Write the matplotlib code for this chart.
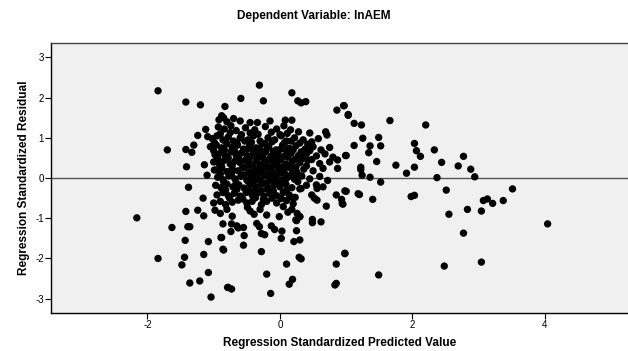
"""
Residual scatter: standardized predicted value vs standardized residual.
"""

import matplotlib.pyplot as plt
import numpy as np

plt.rcParams['font.family'] = ['Liberation Sans', 'DejaVu Sans']

# --- outlying points (read individually) ---
outer_x = [-1.84, -1.42, -1.20, -0.83, -1.70, -1.42, -1.41, -1.38, -2.16, -1.63,
           -1.42, -1.39, -1.36, -1.43, -1.84, -1.44, -1.48, -1.36, -1.21, -1.08,
           -1.04, -0.79, -1.15, -1.08, -0.86, -0.89, -1.24, -1.15, -1.16, -1.10,
           -1.24, -1.30, -1.33, -1.14, -0.99, -1.12, -1.09,
           -0.31, -0.59, -0.25, 0.18, 0.27, 0.32, 0.39, 0.86, 0.96, 1.03,
           -0.45, -0.34, -0.15, 0.08, 0.18, 0.69, 0.71, 0.99, 0.87, 0.87,
           0.55, 0.56, 0.30, 0.85, 0.94, 0.98, 0.70, 0.48, 0.52, 0.56,
           0.49, 0.49, 0.62, 0.30, 0.25, 0.25, 0.21, 0.30, 0.03, 0.02,
           -0.13, -0.08, -0.28, -0.23, -0.35, -0.31, -0.55, -0.54, -0.55, -0.65,
           -0.63, -0.73, -0.74, -0.86, -0.88, -0.85, -0.28, 0.29, 0.32, 0.10,
           -0.20, 0.19, 0.14, -0.14, -0.78, -0.73, 0.85, 0.98, 0.83, 0.85,
           -0.39, -0.49, -0.01, 0.05, 0.26, 0.30, 0.24, 0.32,
           0.97, 1.03, 1.12, 1.23, 1.66, 2.20, 1.25, 1.12, 1.49, 1.52,
           1.36, 1.34, 1.00, 1.46, 1.22, 1.22, 1.24, 1.36, 1.75, 2.03,
           2.06, 2.12, 2.03, 1.91, 2.33, 2.44, 2.37, 2.77, 2.69, 2.88,
           2.94, 1.52, 1.00, 1.18, 1.20, 0.93, 0.95, 1.40, 1.98, 2.03,
           2.51, 3.51, 3.07, 3.13, 3.21, 3.37, 2.55, 2.83, 3.04, 2.77,
           4.04, 0.98, 1.49, 2.48, 3.04]
outer_y = [2.17, 1.89, 1.82, 1.78, 0.70, 0.71, 0.28, -0.23, -0.99, -1.23,
           -0.83, -1.21, -1.21, -1.55, -2.00, -1.97, -2.16, -2.61, -2.56, -2.35,
           -2.96, -2.72, -1.90, -1.58, -1.77, -1.48, -0.80, -0.94, -0.50, 0.07,
           1.06, 0.82, 0.64, 0.33, 0.20, 1.21, 1.03,
           2.31, 1.98, 1.92, 2.12, 1.92, 1.87, 1.90, 1.69, 1.80, 1.58,
           1.38, 1.38, 1.42, 1.44, 1.44, 1.15, 1.07, 0.56, 0.45, 0.24,
           -0.17, -0.26, -0.27, -0.42, -0.63, -0.32, -0.70, -0.42, -0.50, -0.55,
           -1.03, -1.11, -1.09, -0.96, -1.06, -1.31, -1.58, -1.54, -1.32, -1.50,
           -1.19, -1.28, -1.38, -1.41, -1.13, -1.21, -1.23, -1.43, -1.67, -1.19,
           -1.24, -1.14, -1.33, -1.14, -1.48, -1.79, -1.83, -1.97, -2.01, -2.14,
           -2.39, -2.52, -2.64, -2.87, -2.72, -2.76, -2.14, -1.87, -2.66, -2.62,
           -0.90, -0.73, -0.96, -0.71, -0.88, -0.96, -1.04, -0.26,
           1.80, 1.56, 1.36, 1.32, 1.43, 1.32, 0.99, 0.81, 1.01, 0.80,
           0.80, 0.63, 0.56, 0.41, 0.27, 0.21, 0.07, 0.02, 0.32, 0.86,
           0.68, 0.54, 0.27, 0.12, 0.70, 0.39, 0.01, 0.54, 0.30, 0.22,
           0.03, -0.10, -0.33, -0.39, -0.41, -0.53, -0.65, -0.53, -0.46, -0.43,
           -0.30, -0.27, -0.56, -0.52, -0.63, -0.56, -0.90, -0.78, -0.82, -1.37,
           -1.14, -1.88, -2.41, -2.19, -2.09]

# --- dense central cluster (estimated row by row) ---
cluster_x = [-0.92, -0.88, -0.85, -0.80, -0.70, -0.60,
             -0.93, -0.84, -0.74, -0.66, -0.52, -0.38, -0.22, -0.05, 0.06, 0.16, 0.28, 0.45,
             -1.02, -0.95, -0.86, -0.78, -0.70, -0.60, -0.48, -0.40, -0.30, -0.18, -0.08,
             0.02, 0.10, 0.22, 0.35, 0.48, 0.58,
             -1.05, -0.96, -0.88, -0.80, -0.72, -0.64, -0.55, -0.46, -0.36, -0.27, -0.17,
             -0.06, 0.04, 0.14, 0.24, 0.38, 0.50, 0.62, 0.75,
             -0.98, -0.90, -0.82, -0.74, -0.66, -0.58, -0.49, -0.40, -0.31, -0.22, -0.13,
             -0.03, 0.07, 0.17, 0.28, 0.40, 0.55, 0.68, 0.80,
             -1.00, -0.92, -0.84, -0.75, -0.68, -0.60, -0.52, -0.44, -0.35, -0.26, -0.18,
             -0.09, 0.00, 0.09, 0.19, 0.30, 0.42, 0.60, 0.75,
             -0.96, -0.88, -0.80, -0.72, -0.63, -0.55, -0.47, -0.38, -0.30, -0.21, -0.12,
             -0.03, 0.06, 0.15, 0.25, 0.36, 0.50, 0.65,
             -0.94, -0.86, -0.77, -0.68, -0.59, -0.50, -0.42, -0.33, -0.24, -0.15, -0.06,
             0.03, 0.12, 0.22, 0.33, 0.45, 0.60, 0.72,
             -0.97, -0.89, -0.80, -0.71, -0.62, -0.54, -0.45, -0.36, -0.27, -0.18, -0.09,
             0.00, 0.09, 0.18, 0.40, 0.65,
             -0.95, -0.86, -0.78, -0.69, -0.60, -0.51, -0.42, -0.33, -0.24, -0.15, -0.05,
             0.05, 0.14, 0.23,
             -1.00, -0.90, -0.82, -0.72, -0.63, -0.50, -0.42, -0.28, -0.20, -0.05, 0.10, 0.20,
             -0.98, -0.90, -0.80, -0.72, -0.45, -0.30, -0.20, 0.12, 0.18]
cluster_y = [1.45, 1.55, 1.50, 1.40, 1.48, 1.42,
             1.27, 1.22, 1.30, 1.18, 1.25, 1.20, 1.28, 1.22, 1.30, 1.20, 1.15, 1.12,
             0.98, 1.05, 0.95, 1.02, 0.92, 1.00, 0.95, 1.05, 0.92, 1.00, 0.95,
             1.05, 0.92, 1.00, 0.95, 0.90, 0.98,
             0.78, 0.82, 0.75, 0.85, 0.76, 0.82, 0.72, 0.80, 0.75, 0.85, 0.78,
             0.70, 0.82, 0.74, 0.80, 0.72, 0.78, 0.70, 0.76,
             0.58, 0.62, 0.55, 0.65, 0.56, 0.62, 0.55, 0.63, 0.57, 0.64, 0.55,
             0.60, 0.55, 0.62, 0.56, 0.60, 0.55, 0.60, 0.52,
             0.40, 0.36, 0.44, 0.35, 0.42, 0.38, 0.45, 0.36, 0.42, 0.35, 0.44,
             0.38, 0.45, 0.35, 0.42, 0.38, 0.44, 0.36, 0.40,
             0.20, 0.25, 0.16, 0.22, 0.18, 0.26, 0.15, 0.22, 0.18, 0.25, 0.15,
             0.22, 0.18, 0.26, 0.16, 0.22, 0.18, 0.24,
             0.02, -0.04, 0.05, -0.02, 0.04, -0.05, 0.03, -0.03, 0.05, -0.02, 0.04,
             -0.05, 0.02, -0.03, 0.05, -0.02, 0.04, -0.06,
             -0.18, -0.24, -0.15, -0.22, -0.17, -0.25, -0.16, -0.22, -0.15, -0.24, -0.17,
             -0.22, -0.15, -0.24, -0.18, -0.22,
             -0.42, -0.36, -0.44, -0.38, -0.45, -0.36, -0.42, -0.37, -0.45, -0.38, -0.44,
             -0.36, -0.42, -0.48,
             -0.62, -0.58, -0.66, -0.60, -0.55, -0.62, -0.58, -0.66, -0.58, -0.62, -0.56, -0.64,
             -0.80, -0.88, -0.78, -0.95, -0.82, -0.78, -0.92, -0.85, -0.78]

# --- extra overlapping points in the core of the cluster ---
core_x = [-0.90, -0.75, -0.58, -0.45, -0.33, -0.13, 0.00, 0.11,
          -0.99, -0.82, -0.65, -0.53, -0.43, -0.23, -0.12, 0.07, 0.17, 0.30, 0.42,
          -1.00, -0.84, -0.68, -0.50, -0.40, -0.31, -0.21, -0.10, 0.00, 0.10, 0.20, 0.32, 0.45,
          -0.94, -0.78, -0.62, -0.45, -0.35, -0.26, -0.17, -0.08, 0.02, 0.12, 0.23, 0.35, 0.48,
          -0.88, -0.72, -0.56, -0.48, -0.40, -0.30, -0.22, -0.13, -0.04, 0.05, 0.14, 0.24, 0.40,
          -0.90, -0.73, -0.55, -0.46, -0.37, -0.28, -0.19, -0.10, 0.00, 0.08, 0.18, 0.28,
          -0.85, -0.66, -0.48, -0.40, -0.29, -0.20, -0.11, -0.02, 0.08, 0.27,
          -0.82, -0.65, -0.47, -0.38, -0.28, -0.19, -0.10, 0.10,
          -0.76, -0.56, -0.37, -0.25, -0.12, 0.02, 0.18]
core_y = [1.10, 1.13, 1.08, 1.12, 1.09, 1.14, 1.08, 1.11,
          0.88, 0.91, 0.87, 0.92, 0.89, 0.86, 0.90, 0.88, 0.92, 0.87, 0.84,
          0.68, 0.70, 0.66, 0.71, 0.67, 0.72, 0.69, 0.66, 0.71, 0.68, 0.70, 0.65, 0.68,
          0.49, 0.50, 0.47, 0.52, 0.48, 0.51, 0.46, 0.50, 0.48, 0.52, 0.47, 0.49, 0.46,
          0.29, 0.31, 0.28, 0.32, 0.27, 0.30, 0.33, 0.28, 0.31, 0.29, 0.32, 0.27, 0.30,
          0.10, 0.12, 0.08, 0.11, 0.09, 0.13, 0.10, 0.08, 0.12, 0.09, 0.11, 0.08,
          -0.10, -0.12, -0.08, -0.11, -0.09, -0.12, -0.07, -0.10, -0.12, -0.09,
          -0.30, -0.28, -0.32, -0.29, -0.31, -0.28, -0.32, -0.30,
          -0.50, -0.52, -0.49, -0.53, -0.50, -0.51, -0.48]

x_ticks = [-2, 0, 2, 4]
y_ticks = [-3, -2, -1, 0, 1, 2, 3]

fig = plt.figure(figsize=(6.28, 3.51), dpi=100)
ax = fig.add_axes([0.0807, 0.109, 0.919, 0.7675])
ax.set_facecolor('#f0f0f0')

xs = np.array(outer_x + cluster_x + core_x)
ys = np.array(outer_y + cluster_y + core_y)
ax.scatter(xs, ys, s=28, c='black', edgecolors='none', zorder=3)

ax.axhline(0, color='#555555', linewidth=1.0, zorder=2)

ax.set_xlim(-3.46, 5.25)
ax.set_ylim(-3.35, 3.35)
ax.set_xticks(x_ticks)
ax.set_yticks(y_ticks)
ax.set_xticklabels([str(t) for t in x_ticks])
ax.set_yticklabels([str(t) for t in y_ticks])
ax.tick_params(direction='out', length=4, width=0.8, labelsize=7, pad=1)
for s in ax.spines.values():
    s.set_linewidth(1.0)
ax.spines['top'].set_color('#444444')
ax.spines['right'].set_visible(False)

ax.set_xlabel('Regression Standardized Predicted Value', fontsize=8.5,
              fontweight='bold', labelpad=5)
ax.set_ylabel('Regression Standardized Residual', fontsize=8.5,
              fontweight='bold', labelpad=4)
fig.text(0.5, 0.953, 'Dependent Variable: lnAEM', ha='center', va='center',
         fontsize=8.5, fontweight='bold')

fig.savefig('out.png', dpi=100)
